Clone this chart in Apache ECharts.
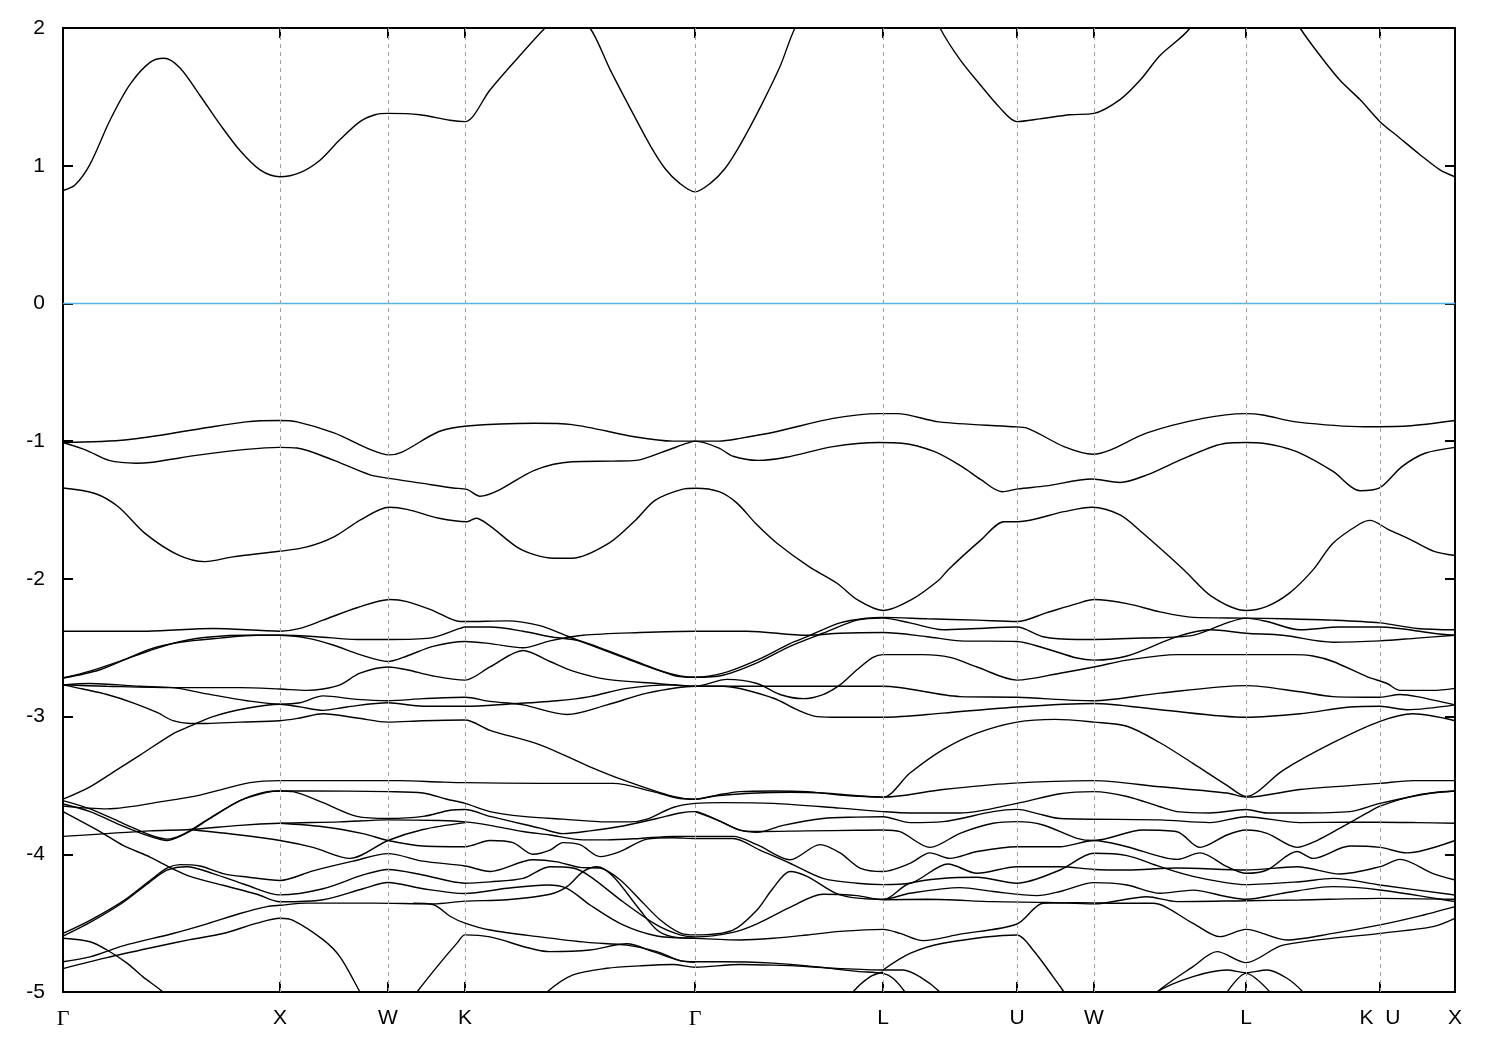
<!DOCTYPE html>
<html><head><meta charset="utf-8">
<script src="https://cdn.jsdelivr.net/npm/echarts@6/dist/echarts.min.js"></script>
<style>html,body{margin:0;padding:0;background:#fff}#c{width:1500px;height:1050px}</style>
</head><body><div id="c"></div>
<script>
// k-path distance (arbitrary units) of the high-symmetry points and their labels
const kTicks = [0,217,325,402,632,820,954,1031,1183,1317,1392];
const kLabels = ['Γ','X','W','K','Γ','L','U','W','L','K  U','X'];
const eTicks = [-5,-4,-3,-2,-1,0,1,2];
const fermi = [[0,0],[1392,0]];

// bands: [k, E(eV)]
const cb = [[0,0.82],[12,0.86],[27,1.01],[47,1.33],[67,1.59],[87,1.75],[101,1.78],[117,1.71],[137,1.51],[157,1.30],[177,1.11],[197,0.97],[217,0.92],[237,0.95],[257,1.04],[277,1.19],[297,1.32],[312,1.37],[325,1.38],[357,1.37],[387,1.33],[402,1.32],[427,1.55],[452,1.76],[482,2.0],[504,2.15],[527,2.0],[547,1.7],[567,1.42],[587,1.15],[602,0.98],[617,0.87],[632,0.81],[647,0.87],[662,0.98],[677,1.15],[697,1.42],[717,1.72],[732,2.0],[757,2.3],[787,2.5],[820,2.6],[852,2.4],[877,2.0],[897,1.77],[917,1.59],[937,1.42],[954,1.32],[977,1.34],[1007,1.37],[1031,1.38],[1057,1.48],[1077,1.62],[1097,1.80],[1127,2.0],[1157,2.4],[1183,2.6],[1212,2.3],[1237,2.0],[1257,1.80],[1277,1.62],[1297,1.48],[1317,1.32],[1337,1.2],[1357,1.08],[1377,0.97],[1392,0.92]];
const vb1 = [[0,-1.01],[64,-0.99],[137,-0.91],[183,-0.86],[216,-0.85],[234,-0.86],[271,-0.94],[307,-1.06],[326,-1.10],[339,-1.08],[376,-0.93],[404,-0.89],[472,-0.87],[509,-0.88],[573,-0.97],[610,-1.0],[632,-1.0],[656,-1.0],[677,-0.98],[714,-0.93],[770,-0.835],[816,-0.80],[834,-0.80],[876,-0.86],[950,-0.895],[964,-0.905],[1001,-1.04],[1030,-1.095],[1047,-1.065],[1084,-0.94],[1140,-0.835],[1182,-0.80],[1200,-0.81],[1233,-0.86],[1302,-0.895],[1344,-0.89],[1392,-0.85]];
const vb2 = [[0,-1.01],[23,-1.065],[46,-1.14],[73,-1.16],[87,-1.155],[137,-1.10],[183,-1.06],[216,-1.045],[234,-1.05],[271,-1.14],[307,-1.245],[326,-1.27],[358,-1.305],[390,-1.34],[404,-1.35],[417,-1.40],[436,-1.355],[472,-1.21],[509,-1.15],[550,-1.145],[573,-1.14],[601,-1.075],[624,-1.015],[632,-1.0],[656,-1.05],[670,-1.11],[695,-1.14],[723,-1.117],[770,-1.04],[816,-1.01],[839,-1.015],[871,-1.075],[899,-1.185],[918,-1.28],[939,-1.367],[955,-1.347],[983,-1.325],[1029,-1.275],[1057,-1.30],[1084,-1.245],[1121,-1.125],[1163,-1.015],[1183,-1.01],[1200,-1.015],[1233,-1.075],[1270,-1.22],[1297,-1.36],[1316,-1.342],[1339,-1.185],[1362,-1.088],[1392,-1.045]];
const vb3 = [[0,-1.34],[32,-1.38],[55,-1.475],[82,-1.67],[115,-1.826],[142,-1.875],[170,-1.84],[216,-1.80],[243,-1.77],[271,-1.695],[298,-1.57],[326,-1.48],[344,-1.495],[376,-1.56],[404,-1.585],[413,-1.56],[426,-1.61],[454,-1.77],[472,-1.826],[491,-1.85],[509,-1.85],[546,-1.74],[573,-1.57],[592,-1.43],[619,-1.35],[633,-1.342],[656,-1.367],[674,-1.45],[693,-1.60],[714,-1.741],[746,-1.911],[774,-2.032],[795,-2.155],[820,-2.23],[848,-2.153],[876,-2.008],[885,-1.935],[918,-1.717],[941,-1.585],[955,-1.585],[1001,-1.512],[1029,-1.48],[1057,-1.536],[1080,-1.669],[1121,-1.935],[1149,-2.129],[1183,-2.23],[1204,-2.20],[1227,-2.10],[1250,-1.935],[1270,-1.741],[1297,-1.60],[1307,-1.575],[1325,-1.64],[1348,-1.717],[1371,-1.80],[1392,-1.83]];
const s1 = [[0,-2.38],[84,-2.38],[150,-2.36],[217,-2.38],[237,-2.36],[260,-2.30],[294,-2.21],[327,-2.15],[344,-2.165],[370,-2.23],[397,-2.31],[402,-2.31],[444,-2.305],[477,-2.34],[504,-2.415],[527,-2.48],[560,-2.57],[594,-2.66],[617,-2.705],[632,-2.715],[660,-2.685],[694,-2.59],[727,-2.47],[744,-2.42],[777,-2.32],[804,-2.285],[820,-2.28],[864,-2.29],[914,-2.30],[954,-2.31],[984,-2.245],[1014,-2.18],[1031,-2.15],[1064,-2.18],[1097,-2.24],[1130,-2.28],[1183,-2.285],[1220,-2.29],[1270,-2.30],[1317,-2.32],[1354,-2.36],[1392,-2.37]];
const s2 = [[0,-2.72],[27,-2.67],[60,-2.59],[87,-2.52],[120,-2.45],[150,-2.42],[184,-2.41],[217,-2.41],[254,-2.42],[294,-2.44],[327,-2.44],[367,-2.43],[397,-2.36],[402,-2.35],[427,-2.35],[460,-2.38],[487,-2.42],[517,-2.45],[544,-2.52],[577,-2.61],[610,-2.70],[632,-2.715],[660,-2.70],[694,-2.61],[727,-2.49],[760,-2.395],[794,-2.30],[820,-2.285],[847,-2.32],[880,-2.37],[914,-2.36],[954,-2.35],[980,-2.42],[1014,-2.44],[1031,-2.44],[1080,-2.43],[1130,-2.41],[1164,-2.32],[1183,-2.285],[1204,-2.31],[1237,-2.37],[1277,-2.35],[1317,-2.35],[1370,-2.395],[1392,-2.41]];
const s3 = [[0,-2.72],[37,-2.66],[87,-2.51],[117,-2.46],[157,-2.43],[194,-2.41],[217,-2.41],[244,-2.43],[270,-2.48],[297,-2.55],[325,-2.60],[344,-2.56],[370,-2.49],[402,-2.455],[427,-2.47],[460,-2.50],[487,-2.45],[520,-2.41],[577,-2.39],[632,-2.38],[684,-2.38],[744,-2.41],[777,-2.395],[820,-2.39],[864,-2.42],[897,-2.45],[954,-2.455],[980,-2.50],[1014,-2.575],[1031,-2.59],[1064,-2.56],[1114,-2.42],[1147,-2.37],[1183,-2.395],[1220,-2.41],[1270,-2.46],[1317,-2.45],[1354,-2.43],[1392,-2.41]];
const s4 = [[0,-2.77],[44,-2.78],[110,-2.79],[177,-2.79],[217,-2.80],[244,-2.81],[260,-2.80],[277,-2.77],[297,-2.685],[325,-2.64],[344,-2.66],[370,-2.705],[402,-2.735],[427,-2.64],[460,-2.52],[487,-2.60],[510,-2.67],[544,-2.73],[594,-2.76],[632,-2.78],[664,-2.73],[694,-2.76],[717,-2.84],[740,-2.87],[760,-2.84],[777,-2.77],[794,-2.66],[810,-2.57],[820,-2.55],[860,-2.55],[887,-2.57],[914,-2.64],[954,-2.735],[997,-2.685],[1031,-2.64],[1064,-2.59],[1114,-2.55],[1183,-2.55],[1230,-2.55],[1250,-2.56],[1270,-2.60],[1304,-2.71],[1324,-2.76],[1337,-2.81],[1370,-2.81],[1392,-2.795]];
const s5 = [[0,-2.77],[20,-2.80],[44,-2.84],[70,-2.90],[94,-2.97],[110,-3.03],[127,-3.05],[144,-3.05],[177,-3.04],[217,-3.03],[237,-3.01],[260,-2.98],[294,-3.01],[325,-3.04],[360,-3.03],[402,-3.025],[427,-3.10],[477,-3.205],[527,-3.365],[560,-3.46],[610,-3.58],[632,-3.60],[654,-3.57],[677,-3.545],[710,-3.54],[744,-3.545],[777,-3.57],[820,-3.585],[847,-3.41],[880,-3.24],[914,-3.12],[954,-3.04],[992,-3.02],[1031,-3.04],[1064,-3.07],[1097,-3.19],[1130,-3.34],[1164,-3.50],[1183,-3.58],[1220,-3.39],[1270,-3.19],[1317,-3.035],[1350,-2.98],[1392,-3.03]];
const s6 = [[0,-2.77],[27,-2.76],[77,-2.78],[110,-2.79],[144,-2.835],[184,-2.885],[217,-2.91],[237,-2.90],[260,-2.85],[294,-2.875],[325,-2.885],[360,-2.87],[402,-2.86],[427,-2.89],[460,-2.915],[504,-2.985],[544,-2.915],[584,-2.83],[632,-2.78],[677,-2.78],[744,-2.78],[820,-2.78],[897,-2.855],[954,-2.86],[1031,-2.885],[1097,-2.83],[1183,-2.775],[1237,-2.82],[1270,-2.855],[1317,-2.86],[1337,-2.84],[1354,-2.855],[1392,-2.915]];
const s7 = [[0,-3.60],[27,-3.51],[51,-3.40],[77,-3.28],[110,-3.125],[127,-3.07],[150,-3.00],[184,-2.94],[217,-2.91],[237,-2.93],[260,-2.955],[284,-2.93],[325,-2.90],[360,-2.925],[402,-2.925],[444,-2.91],[494,-2.885],[527,-2.855],[564,-2.795],[610,-2.77],[632,-2.78],[660,-2.78],[710,-2.865],[734,-2.95],[754,-3.0],[777,-3.005],[820,-3.005],[880,-2.975],[954,-2.93],[1031,-2.905],[1097,-2.95],[1183,-3.005],[1237,-2.98],[1287,-2.93],[1317,-2.925],[1344,-2.95],[1392,-2.915]];
const s8 = [[0,-3.65],[44,-3.67],[105,-3.61],[137,-3.57],[187,-3.48],[217,-3.465],[337,-3.465],[377,-3.475],[402,-3.48],[477,-3.485],[550,-3.485],[590,-3.545],[617,-3.595],[632,-3.60],[654,-3.575],[694,-3.555],[727,-3.55],[760,-3.555],[794,-3.575],[820,-3.585],[880,-3.53],[947,-3.485],[1031,-3.465],[1097,-3.51],[1164,-3.555],[1183,-3.585],[1237,-3.53],[1317,-3.485],[1350,-3.465],[1392,-3.465]];
const c1 = [[0,-3.61],[27,-3.67],[60,-3.775],[87,-3.86],[104,-3.89],[120,-3.855],[144,-3.75],[177,-3.61],[204,-3.545],[217,-3.54],[244,-3.54],[325,-3.545],[360,-3.555],[384,-3.60],[402,-3.63],[427,-3.69],[460,-3.725],[500,-3.745],[544,-3.765],[567,-3.765],[584,-3.745],[610,-3.66],[632,-3.63],[660,-3.625],[710,-3.63],[777,-3.665],[820,-3.69],[847,-3.70],[897,-3.70],[954,-3.63],[997,-3.56],[1031,-3.545],[1064,-3.58],[1097,-3.655],[1114,-3.69],[1147,-3.70],[1183,-3.675],[1204,-3.70],[1237,-3.70],[1287,-3.69],[1317,-3.63],[1370,-3.553],[1392,-3.54]];
const d1 = [[0,-3.635],[27,-3.69],[60,-3.795],[87,-3.87],[104,-3.90],[124,-3.845],[147,-3.74],[177,-3.61],[204,-3.55],[217,-3.54],[230,-3.545],[260,-3.625],[294,-3.725],[325,-3.74],[360,-3.725],[387,-3.68],[402,-3.675],[427,-3.725],[477,-3.81],[500,-3.85],[527,-3.83],[560,-3.795],[594,-3.74],[617,-3.70],[632,-3.69],[654,-3.75],[677,-3.825],[694,-3.835],[744,-3.83],[794,-3.826],[820,-3.824],[837,-3.836],[867,-3.95],[897,-3.848],[930,-3.775],[954,-3.763],[980,-3.787],[1014,-3.884],[1031,-3.90],[1080,-3.824],[1114,-3.836],[1137,-3.95],[1164,-3.86],[1183,-3.824],[1204,-3.848],[1234,-3.95],[1254,-3.90],[1277,-3.81],[1304,-3.70],[1317,-3.65],[1354,-3.57],[1392,-3.54]];
const d2 = [[632,-3.69],[654,-3.75],[677,-3.825],[694,-3.84],[720,-3.79],[760,-3.74],[794,-3.73],[820,-3.727],[847,-3.77],[880,-3.763],[930,-3.69],[954,-3.674],[980,-3.715],[997,-3.74],[1097,-3.75],[1147,-3.77],[1183,-3.727],[1237,-3.77],[1287,-3.767],[1317,-3.767],[1354,-3.77],[1392,-3.775]];
const e1 = [[0,-3.87],[44,-3.85],[87,-3.83],[127,-3.82],[177,-3.79],[217,-3.775],[277,-3.765],[325,-3.75],[377,-3.755],[402,-3.765],[427,-3.79],[460,-3.835],[487,-3.86],[520,-3.895],[544,-3.895],[577,-3.885],[610,-3.87],[632,-3.87],[670,-3.87],[694,-3.93],[727,-4.04],[757,-3.93],[777,-3.99],[797,-4.10],[820,-4.125],[847,-4.066],[867,-3.99],[887,-4.03],[914,-3.98],[954,-3.945],[997,-3.945],[1031,-3.90],[1064,-3.945],[1114,-4.037],[1137,-3.99],[1164,-4.09],[1183,-4.138],[1204,-4.114],[1234,-3.98],[1250,-4.03],[1287,-3.94],[1317,-3.95],[1344,-3.99],[1392,-3.90]];
const g1 = [[127,-3.82],[177,-3.86],[217,-3.90],[250,-3.95],[287,-4.03],[325,-3.90],[360,-3.82],[402,-3.77]];
const g2 = [[217,-3.775],[260,-3.80],[300,-3.85],[325,-3.90],[360,-3.94],[402,-3.945],[427,-3.90],[450,-3.915],[470,-4.0],[487,-3.97],[500,-3.915],[517,-3.93],[537,-4.017],[557,-3.98],[584,-3.89],[610,-3.88],[632,-3.885],[670,-3.885],[697,-3.97],[727,-4.065],[760,-4.175],[794,-4.21],[820,-4.22],[847,-4.21],[885,-4.07],[914,-4.138],[954,-4.09],[997,-4.09],[1031,-4.11],[1064,-4.114],[1114,-4.10],[1183,-4.114],[1234,-4.09],[1277,-4.143],[1317,-4.09],[1337,-4.037],[1370,-4.14],[1392,-4.187]];
const h1 = [[0,-4.575],[27,-4.48],[60,-4.34],[87,-4.19],[104,-4.10],[117,-4.075],[137,-4.085],[160,-4.14],[184,-4.165],[217,-4.19],[250,-4.12],[290,-4.05],[325,-3.995],[360,-4.05],[402,-4.085],[427,-4.125],[470,-4.04],[494,-4.055],[517,-4.095],[537,-4.10],[557,-4.185],[577,-4.33],[597,-4.475],[617,-4.57],[632,-4.585],[670,-4.55],[694,-4.405],[710,-4.247],[727,-4.125],[744,-4.16],[777,-4.295],[820,-4.327],[847,-4.283],[897,-4.242],[930,-4.27],[974,-4.30],[997,-4.27],[1031,-4.206],[1064,-4.223],[1097,-4.283],[1130,-4.26],[1164,-4.308],[1183,-4.327],[1220,-4.283],[1270,-4.235],[1317,-4.259],[1392,-4.344]];
const h2 = [[0,-4.595],[27,-4.495],[60,-4.35],[87,-4.20],[104,-4.115],[124,-4.09],[150,-4.14],[184,-4.225],[217,-4.295],[260,-4.25],[300,-4.15],[325,-4.11],[360,-4.15],[402,-4.21],[427,-4.20],[460,-4.175],[487,-4.09],[510,-4.10],[527,-4.16],[560,-4.345],[594,-4.515],[617,-4.585],[632,-4.60],[670,-4.567],[694,-4.505],[727,-4.385],[760,-4.29],[794,-4.30],[820,-4.33],[847,-4.21],[914,-4.167],[954,-4.21],[997,-4.114],[1031,-3.993],[1064,-4.01],[1097,-4.09],[1130,-4.16],[1183,-4.22],[1237,-4.199],[1270,-4.175],[1317,-4.223],[1392,-4.296]];
const f1 = [[0,-3.69],[37,-3.835],[60,-3.935],[87,-4.02],[104,-4.085],[127,-4.16],[160,-4.225],[194,-4.29],[217,-4.345],[260,-4.33],[300,-4.25],[325,-4.205],[360,-4.25],[402,-4.285],[444,-4.247],[484,-4.223],[504,-4.247],[527,-4.368],[560,-4.513],[594,-4.593],[632,-4.61],[677,-4.622],[710,-4.61],[744,-4.586],[777,-4.56],[820,-4.545],[837,-4.574],[860,-4.627],[897,-4.58],[954,-4.506],[980,-4.356],[1014,-4.351],[1064,-4.356],[1090,-4.356],[1130,-4.501],[1157,-4.598],[1183,-4.545],[1224,-4.622],[1270,-4.574],[1317,-4.513],[1354,-4.453],[1392,-4.38]];
const h4 = [[0,-4.78],[27,-4.745],[60,-4.665],[110,-4.575],[144,-4.505],[177,-4.43],[204,-4.38],[217,-4.37],[244,-4.355],[310,-4.355],[370,-4.36],[402,-4.34],[444,-4.33],[487,-4.29],[504,-4.235],[520,-4.126],[534,-4.09],[550,-4.16],[577,-4.405],[594,-4.55],[610,-4.60],[632,-4.61]];
const h5 = [[0,-4.83],[44,-4.75],[94,-4.67],[127,-4.62],[160,-4.575],[194,-4.50],[217,-4.465],[230,-4.48],[260,-4.62],[277,-4.745],[297,-5.0],[307,-5.13]];
const h6 = [[0,-4.61],[27,-4.635],[44,-4.695],[64,-4.79],[80,-4.89],[100,-5.0],[110,-5.08]];
const dr = [[350,-4.356],[370,-4.365],[387,-4.45],[402,-4.50],[427,-4.55],[477,-4.60],[524,-4.64],[564,-4.66],[594,-4.707],[617,-4.772],[632,-4.78],[660,-4.78],[710,-4.79],[744,-4.81],[794,-4.85],[820,-4.865],[830,-4.90],[842,-5.0],[850,-5.1]];
const ri = [[347,-5.08],[354,-5.0],[377,-4.79],[394,-4.645],[402,-4.585],[427,-4.60],[487,-4.707],[527,-4.695],[564,-4.65],[590,-4.707],[617,-4.772],[632,-4.785]];
const bo = [[477,-5.08],[484,-5.0],[510,-4.876],[544,-4.828],[577,-4.81],[610,-4.80],[632,-4.82],[677,-4.80],[710,-4.805],[744,-4.815],[777,-4.83],[820,-4.84],[840,-4.84],[857,-4.89],[877,-5.0],[887,-5.1]];
const la = [[783,-5.1],[790,-5.0],[807,-4.89],[820,-4.855]];
const t1 = [[820,-4.33],[864,-4.327],[930,-4.344],[984,-4.35],[1031,-4.36],[1084,-4.308],[1114,-4.344],[1183,-4.337],[1237,-4.332],[1317,-4.32],[1392,-4.327]];
const t2 = [[820,-4.84],[847,-4.72],[880,-4.646],[954,-4.586],[970,-4.695],[990,-4.888],[1001,-5.0],[1010,-5.1]];
const t3 = [[1085,-5.1],[1094,-5.0],[1130,-4.816],[1154,-4.707],[1183,-4.787],[1220,-4.66],[1317,-4.574],[1370,-4.525],[1392,-4.465]];
const t4 = [[1085,-5.1],[1094,-5.0],[1130,-4.888],[1164,-4.84],[1183,-4.86],[1204,-4.84],[1224,-4.90],[1240,-5.0],[1250,-5.1]];
const t5 = [[1157,-5.1],[1164,-5.0],[1183,-4.865],[1207,-5.0],[1214,-5.1]];

const bands = [cb,vb1,vb2,vb3,s1,s2,s3,s4,s5,s6,s7,s8,c1,d1,d2,e1,g1,g2,h1,h2,f1,h4,h5,h6,dr,ri,bo,la,t1,t2,t3,t4,t5];

const labelMap = {};
kTicks.forEach((k,i)=>{ labelMap[k] = kLabels[i]; });
const FONT = "'Liberation Sans', Arial, sans-serif";

const series = [{
  type:'line', data:fermi, symbol:'none', z:1, silent:true,
  lineStyle:{color:'#56b4e9', width:1.5},
  markLine:{silent:true, symbol:['none','none'], label:{show:false}, animation:false,
    lineStyle:{color:'#a0a0a0', type:[4,4], width:1},
    data:kTicks.slice(1,-1).map(k=>({xAxis:k}))}
}];
bands.forEach(b=>series.push({
  type:'line', data:b, symbol:'none', showSymbol:false, smooth:0.3, z:2, silent:true, clip:true,
  lineStyle:{color:'#000', width:1.4}
}));

const chart = echarts.init(document.getElementById('c'));
chart.setOption({
  animation:false,
  backgroundColor:'#fff',
  grid:{left:63, right:45, top:28, bottom:58, containLabel:false, outerBoundsMode:'none'},
  xAxis:[{
    type:'value', min:0, max:1392, position:'bottom',
    axisLine:{show:true, onZero:false, lineStyle:{color:'#000', width:2}},
    axisTick:{show:true, inside:true, length:10, customValues:kTicks, lineStyle:{color:'#000', width:2}},
    axisLabel:{show:true, customValues:kTicks,
      formatter:v=>{ const t = labelMap[v]||''; return t==='Γ' ? '{g|Γ}' : t; },
      rich:{g:{fontFamily:"'Liberation Serif', 'DejaVu Serif', serif", fontSize:22, color:'#000'}},
      color:'#000', fontSize:21, fontFamily:FONT, margin:16},
    splitLine:{show:false}
  },{
    type:'value', min:0, max:1392, position:'top',
    axisLine:{show:true, onZero:false, lineStyle:{color:'#000', width:2}},
    axisTick:{show:true, inside:true, length:10, customValues:kTicks, lineStyle:{color:'#000', width:2}},
    axisLabel:{show:false}, splitLine:{show:false}
  }],
  yAxis:[{
    type:'value', min:-5, max:2, interval:1, position:'left',
    axisLine:{show:true, onZero:false, lineStyle:{color:'#000', width:2}},
    axisTick:{show:true, inside:true, length:10, lineStyle:{color:'#000', width:2}},
    axisLabel:{show:true, color:'#000', fontSize:21, fontFamily:FONT, margin:18, formatter:v=>String(v)},
    splitLine:{show:false}
  },{
    type:'value', min:-5, max:2, interval:1, position:'right',
    axisLine:{show:true, onZero:false, lineStyle:{color:'#000', width:2}},
    axisTick:{show:true, inside:true, length:10, lineStyle:{color:'#000', width:2}},
    axisLabel:{show:false}, splitLine:{show:false}
  }],
  series:series
});
</script>
</body></html>
